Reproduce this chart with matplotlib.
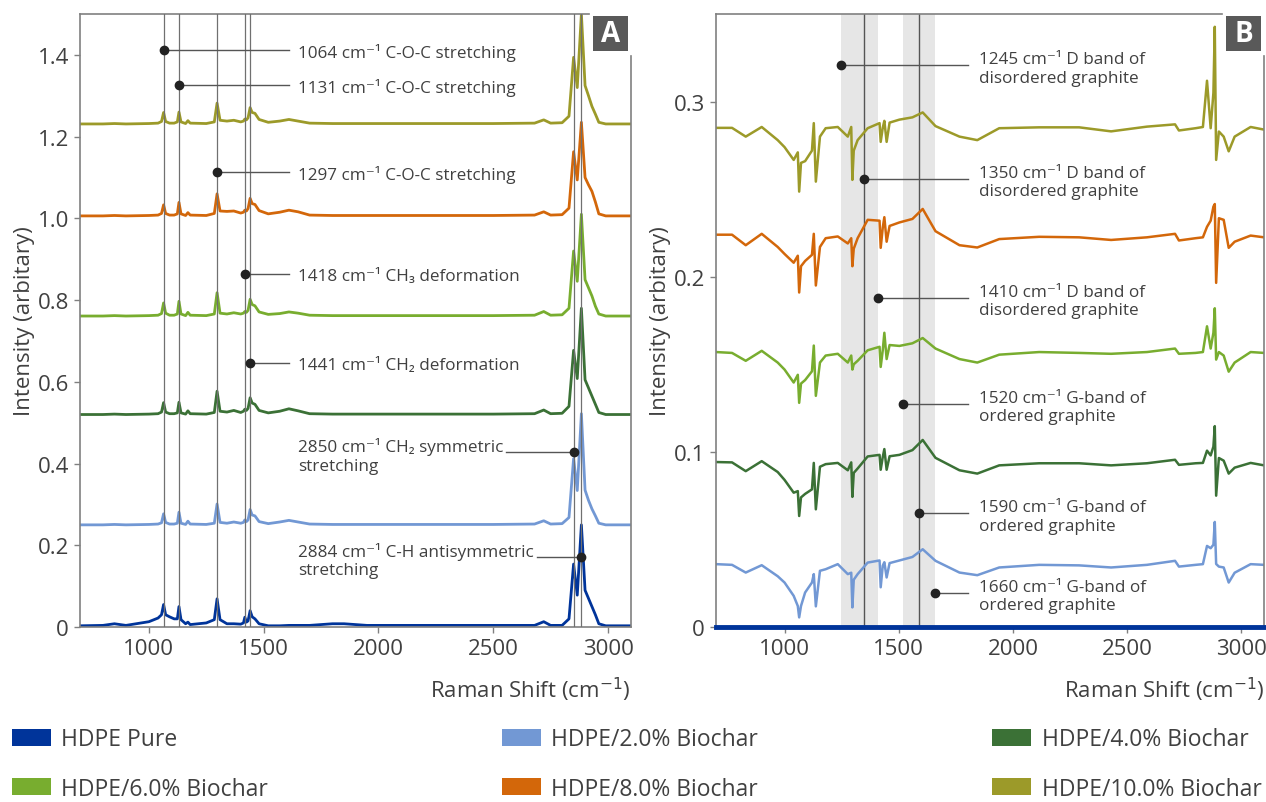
import matplotlib
matplotlib.use('Agg')
import matplotlib.pyplot as plt
from matplotlib.patches import Patch, Rectangle

plt.rcParams['font.family'] = ['Open Sans', 'DejaVu Sans']

# series
series_names = ['HDPE Pure', 'HDPE/2.0% Biochar', 'HDPE/4.0% Biochar',
                'HDPE/6.0% Biochar', 'HDPE/8.0% Biochar', 'HDPE/10.0% Biochar']
series_colors = ['#00349a', '#7298d4', '#3b7136', '#78ad2f', '#d3670a', '#9c9a29']

# panel A: stacked Raman spectra
wavenumber_a = [700, 800, 850, 900, 1000, 1040, 1055, 1064, 1073, 1090,
                1110, 1124, 1131, 1140, 1160, 1170, 1180, 1250, 1285, 1297,
                1310, 1340, 1370, 1400, 1412, 1418, 1425, 1432, 1441, 1450,
                1462, 1480, 1520, 1570, 1610, 1650, 1700, 1800, 1850, 1950,
                2500, 2680, 2720, 2750, 2800, 2830, 2850, 2866, 2884, 2900,
                2915, 2930, 2945, 2960, 2990, 3100]
pure_a = [0.003, 0.004, 0.008, 0.004, 0.013, 0.022, 0.030, 0.055, 0.030, 0.025,
          0.020, 0.020, 0.050, 0.018, 0.008, 0.012, 0.006, 0.010, 0.018, 0.069,
          0.018, 0.008, 0.008, 0.007, 0.010, 0.024, 0.012, 0.015, 0.040, 0.025,
          0.020, 0.008, 0.003, 0.003, 0.004, 0.004, 0.004, 0.008, 0.008, 0.004,
          0.004, 0.004, 0.013, 0.004, 0.004, 0.020, 0.154, 0.078, 0.250, 0.090,
          0.070, 0.050, 0.030, 0.008, 0.003, 0.003]
bc2_a = [0.250, 0.250, 0.251, 0.250, 0.251, 0.252, 0.255, 0.277, 0.256, 0.252,
         0.252, 0.254, 0.281, 0.254, 0.251, 0.259, 0.252, 0.251, 0.254, 0.301,
         0.256, 0.254, 0.257, 0.254, 0.256, 0.262, 0.258, 0.262, 0.2875, 0.274,
         0.272, 0.258, 0.253, 0.257, 0.261, 0.257, 0.252, 0.251, 0.251, 0.251,
         0.251, 0.252, 0.260, 0.252, 0.253, 0.268, 0.412, 0.334, 0.522, 0.335,
         0.310, 0.289, 0.272, 0.254, 0.250, 0.250]
bc4_a = [0.520, 0.520, 0.521, 0.520, 0.521, 0.522, 0.526, 0.549, 0.526, 0.522,
         0.522, 0.524, 0.550, 0.524, 0.521, 0.529, 0.522, 0.521, 0.525, 0.577,
         0.528, 0.526, 0.530, 0.525, 0.528, 0.533, 0.530, 0.535, 0.561, 0.548,
         0.545, 0.530, 0.524, 0.528, 0.534, 0.529, 0.522, 0.521, 0.521, 0.521,
         0.521, 0.522, 0.531, 0.522, 0.523, 0.540, 0.677, 0.608, 0.780, 0.605,
         0.585, 0.565, 0.545, 0.525, 0.520, 0.520]
bc6_a = [0.761, 0.761, 0.762, 0.761, 0.762, 0.763, 0.767, 0.793, 0.768, 0.763,
         0.763, 0.766, 0.797, 0.766, 0.762, 0.770, 0.763, 0.762, 0.766, 0.818,
         0.768, 0.766, 0.769, 0.766, 0.768, 0.772, 0.770, 0.775, 0.802, 0.789,
         0.786, 0.771, 0.765, 0.767, 0.771, 0.768, 0.763, 0.762, 0.762, 0.762,
         0.762, 0.763, 0.772, 0.763, 0.764, 0.780, 0.920, 0.846, 1.010, 0.850,
         0.830, 0.810, 0.785, 0.766, 0.761, 0.761]
bc8_a = [1.006, 1.006, 1.007, 1.006, 1.007, 1.008, 1.012, 1.033, 1.012, 1.008,
         1.008, 1.011, 1.039, 1.011, 1.007, 1.014, 1.008, 1.007, 1.012, 1.060,
         1.018, 1.017, 1.018, 1.013, 1.015, 1.020, 1.018, 1.024, 1.049, 1.036,
         1.034, 1.019, 1.011, 1.015, 1.020, 1.016, 1.008, 1.007, 1.007, 1.007,
         1.007, 1.008, 1.016, 1.008, 1.009, 1.025, 1.163, 1.094, 1.235, 1.100,
         1.082, 1.066, 1.040, 1.011, 1.006, 1.006]
bc10_a = [1.231, 1.231, 1.232, 1.231, 1.232, 1.233, 1.237, 1.259, 1.237, 1.233,
          1.233, 1.236, 1.260, 1.236, 1.232, 1.239, 1.233, 1.232, 1.236, 1.282,
          1.240, 1.238, 1.240, 1.236, 1.238, 1.243, 1.241, 1.246, 1.271, 1.259,
          1.257, 1.242, 1.235, 1.238, 1.242, 1.238, 1.233, 1.232, 1.232, 1.232,
          1.232, 1.233, 1.241, 1.233, 1.234, 1.250, 1.394, 1.320, 1.500, 1.325,
          1.300, 1.274, 1.255, 1.235, 1.231, 1.231]

# panel B: difference spectra
wavenumber_b = [700, 770, 830, 900, 970, 1000, 1040, 1058, 1064, 1072,
                1090, 1120, 1128, 1137, 1155, 1180, 1233, 1277, 1292, 1297,
                1303, 1320, 1364, 1416, 1421, 1430, 1437, 1447, 1460, 1503,
                1560, 1605, 1661, 1766, 1844, 1940, 2115, 2290, 2430, 2587,
                2710, 2727, 2800, 2832, 2850, 2866, 2878, 2884, 2890, 2902,
                2923, 2945, 2971, 3041, 3100]
pure_b_x = [700, 3100]
pure_b = [0.0, 0.0]
bc2_b = [0.0359, 0.0355, 0.0311, 0.0353, 0.0290, 0.0254, 0.0178, 0.0120, 0.0055, 0.0120,
         0.0197, 0.0254, 0.0302, 0.0118, 0.0321, 0.0330, 0.0359, 0.0302, 0.0310, 0.0112,
         0.0270, 0.0302, 0.0368, 0.0380, 0.0227, 0.0350, 0.0370, 0.0283, 0.0365, 0.0380,
         0.0400, 0.0444, 0.0378, 0.0311, 0.0296, 0.0340, 0.0355, 0.0352, 0.0340, 0.0355,
         0.0378, 0.0345, 0.0355, 0.0359, 0.0463, 0.0450, 0.0470, 0.0600, 0.0360, 0.0345,
         0.0340, 0.0254, 0.0310, 0.0359, 0.0355]
bc4_b = [0.0942, 0.0940, 0.0890, 0.0947, 0.0885, 0.0840, 0.0767, 0.0776, 0.0634, 0.0740,
         0.0760, 0.0786, 0.0937, 0.0672, 0.0915, 0.0930, 0.0937, 0.0895, 0.0940, 0.0743,
         0.0880, 0.0905, 0.0974, 0.0983, 0.0898, 0.0970, 0.1016, 0.0898, 0.0975, 0.0983,
         0.1010, 0.1068, 0.0966, 0.0895, 0.0876, 0.0923, 0.0935, 0.0935, 0.0923, 0.0935,
         0.0955, 0.0926, 0.0935, 0.0937, 0.1007, 0.0980, 0.1030, 0.1147, 0.0750, 0.0965,
         0.0950, 0.0876, 0.0910, 0.0937, 0.0923]
bc6_b = [0.1570, 0.1565, 0.1520, 0.1577, 0.1510, 0.1470, 0.1396, 0.1440, 0.1280, 0.1390,
         0.1410, 0.1460, 0.1607, 0.1320, 0.1510, 0.1550, 0.1560, 0.1510, 0.1550, 0.1470,
         0.1500, 0.1520, 0.1580, 0.1600, 0.1485, 0.1580, 0.1680, 0.1530, 0.1610, 0.1605,
         0.1620, 0.1650, 0.1590, 0.1530, 0.1510, 0.1555, 0.1570, 0.1565, 0.1560, 0.1570,
         0.1590, 0.1560, 0.1565, 0.1570, 0.1717, 0.1590, 0.1680, 0.1820, 0.1527, 0.1570,
         0.1550, 0.1458, 0.1510, 0.1570, 0.1565]
bc8_b = [0.2240, 0.2240, 0.2180, 0.2245, 0.2170, 0.2130, 0.2080, 0.2120, 0.1910, 0.2060,
         0.2090, 0.2125, 0.2245, 0.1950, 0.2170, 0.2220, 0.2230, 0.2190, 0.2220, 0.2060,
         0.2160, 0.2220, 0.2325, 0.2320, 0.2165, 0.2280, 0.2340, 0.2200, 0.2290, 0.2310,
         0.2330, 0.2387, 0.2260, 0.2180, 0.2167, 0.2215, 0.2228, 0.2225, 0.2210, 0.2225,
         0.2245, 0.2207, 0.2220, 0.2225, 0.2285, 0.2320, 0.2400, 0.2415, 0.1965, 0.2334,
         0.2325, 0.2165, 0.2200, 0.2235, 0.2225]
bc10_b = [0.2850, 0.2850, 0.2800, 0.2855, 0.2780, 0.2740, 0.2667, 0.2710, 0.2486, 0.2650,
          0.2660, 0.2720, 0.2877, 0.2543, 0.2800, 0.2848, 0.2855, 0.2800, 0.2855, 0.2553,
          0.2720, 0.2780, 0.2848, 0.2877, 0.2770, 0.2850, 0.2890, 0.2770, 0.2880, 0.2897,
          0.2910, 0.2938, 0.2860, 0.2800, 0.2780, 0.2848, 0.2853, 0.2853, 0.2830, 0.2857,
          0.2870, 0.2835, 0.2848, 0.2855, 0.3119, 0.2848, 0.3050, 0.3427, 0.2667, 0.2829,
          0.2800, 0.2716, 0.2800, 0.2855, 0.2840]

# annotations
peak_lines_a = [1064, 1131, 1297, 1418, 1441, 2850, 2884]
labels_a = ['1064 cm⁻¹ C-O-C stretching', '1131 cm⁻¹ C-O-C stretching',
            '1297 cm⁻¹ C-O-C stretching', '1418 cm⁻¹ CH₃ deformation',
            '1441 cm⁻¹ CH₂ deformation', '2850 cm⁻¹ CH₂ symmetric\nstretching',
            '2884 cm⁻¹ C-H antisymmetric\nstretching']
label_y_a = [1.411, 1.327, 1.113, 0.865, 0.645, 0.428, 0.172]

bands_b = [(1245, 1410), (1520, 1660)]
peak_lines_b = [1350, 1590]
label_x_b = [1245, 1350, 1410, 1520, 1590, 1660]
labels_b = ['1245 cm⁻¹ D band of\ndisordered graphite',
            '1350 cm⁻¹ D band of\ndisordered graphite',
            '1410 cm⁻¹ D band of\ndisordered graphite',
            '1520 cm⁻¹ G-band of\nordered graphite',
            '1590 cm⁻¹ G-band of\nordered graphite',
            '1660 cm⁻¹ G-band of\nordered graphite']
label_y_b = [0.3208, 0.2558, 0.188, 0.1276, 0.065, 0.0194]

yticks_a = [0, 0.2, 0.4, 0.6, 0.8, 1.0, 1.2, 1.4]
yticklabels_a = ['0', '0.2', '0.4', '0.6', '0.8', '1.0', '1.2', '1.4']
yticks_b = [0, 0.1, 0.2, 0.3]
yticklabels_b = ['0', '0.1', '0.2', '0.3']
xticks = [1000, 1500, 2000, 2500, 3000]

TEXT = '#404040'
SPINE = '#808080'
NOTE_SIZE = 12.3


def style_axes(ax, ylim, yticks, yticklabels, panel, right_top):
    ax.set_xlim(700, 3100)
    ax.set_ylim(*ylim)
    ax.set_xticks(xticks)
    ax.set_yticks(yticks)
    ax.set_yticklabels(yticklabels)
    ax.tick_params(length=4, width=1, color=SPINE, labelsize=16,
                   labelcolor=TEXT, pad=4)
    for s in ax.spines.values():
        s.set_color(SPINE)
        s.set_linewidth(1.2)
    ax.spines['top'].set_bounds(700, 2915)
    ax.spines['right'].set_bounds(ylim[0], right_top)
    ax.set_xlabel('Raman Shift (cm$^{-1}$)', loc='right', fontsize=16,
                  color=TEXT, labelpad=11)
    ax.set_ylabel('Intensity (arbitary)', fontsize=16, color=TEXT, labelpad=1.5)
    ax.add_patch(Rectangle((0.931, 0.9396), 0.0635, 0.057, transform=ax.transAxes,
                           facecolor='#595959', edgecolor='none', clip_on=False,
                           zorder=6))
    ax.text(0.931 + 0.0635 / 2, 0.9396 + 0.057 / 2, panel, transform=ax.transAxes,
            ha='center', va='center', color='white', fontsize=20,
            fontweight='bold', zorder=7)


def note(ax, x, y, text):
    return ax.text(x, y, text, ha='left', va='center_baseline',
                   fontsize=NOTE_SIZE, color=TEXT, linespacing=1.2, zorder=5)


def dot_label(ax, x_dot, y, x_line_end, x_text, text):
    ax.plot([x_dot, x_line_end], [y, y], color='#555555', lw=1, zorder=4)
    ax.plot(x_dot, y, 'o', color='#222222', ms=6, zorder=5)
    note(ax, x_text, y, text)


def main():
    fig = plt.figure(figsize=(12.66, 8.03), dpi=100)
    ax_a = fig.add_axes([0.0632, 0.2179, 0.4352, 0.7634])
    ax_b = fig.add_axes([0.5656, 0.2179, 0.4329, 0.7634])

    # ---- panel A
    spectra_a = [pure_a, bc2_a, bc4_a, bc6_a, bc8_a, bc10_a]
    for y, c in zip(spectra_a, series_colors):
        ax_a.plot(wavenumber_a, y, color=c, lw=2, zorder=2)
    for x in peak_lines_a:
        ax_a.axvline(x, color='#707070', lw=0.9, zorder=3)

    late = []
    for x, y, t in zip(peak_lines_a, label_y_a, labels_a):
        if x < 1600:
            dot_label(ax_a, x, y, 1610, 1650, t)
        else:
            txt = note(ax_a, 1650, y, t)
            ax_a.plot(x, y, 'o', color='#222222', ms=6, zorder=5)
            late.append((txt, x, y))
    style_axes(ax_a, (0, 1.5), yticks_a, yticklabels_a, 'A', 1.397)

    # ---- panel B
    for lo, hi in bands_b:
        ax_b.axvspan(lo, hi, color='#e6e6e6', lw=0, zorder=0)
    for x in peak_lines_b:
        ax_b.axvline(x, color='#555555', lw=1, zorder=1)
    ax_b.plot(pure_b_x, pure_b, color=series_colors[0], lw=3.5, zorder=3,
              clip_on=False)
    for y, c in zip([bc2_b, bc4_b, bc6_b, bc8_b, bc10_b], series_colors[1:]):
        ax_b.plot(wavenumber_b, y, color=c, lw=1.8, zorder=2)
    for x, y, t in zip(label_x_b, label_y_b, labels_b):
        dot_label(ax_b, x, y, 1805, 1850, t)
    style_axes(ax_b, (0, 0.35), yticks_b, yticklabels_b, 'B', 0.326)

    # connector lines that start at the end of the text
    fig.canvas.draw()
    inv = ax_a.transData.inverted()
    for txt, x, y in late:
        bb = txt.get_window_extent()
        x_start = inv.transform((bb.x1 + 3, bb.y0))[0]
        ax_a.plot([x_start, x], [y, y], color='#555555', lw=1, zorder=4)

    # legend, filled row by row
    handles = [Patch(facecolor=c, edgecolor='none') for c in series_colors]
    order = [0, 3, 1, 4, 2, 5]
    fig.legend([handles[i] for i in order], [series_names[i] for i in order],
               ncol=3, loc='upper left', bbox_to_anchor=(0.0095, 0.093, 0.987, 0),
               mode='expand', frameon=False, fontsize=16.5, labelcolor=TEXT,
               handlelength=1.7, handleheight=0.8, handletextpad=0.45,
               labelspacing=1.1, borderaxespad=0, borderpad=0)

    fig.savefig('out.png', dpi=100)


if __name__ == '__main__':
    main()
